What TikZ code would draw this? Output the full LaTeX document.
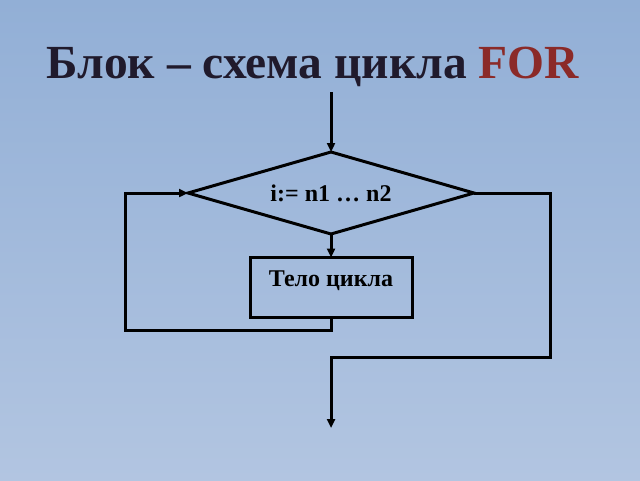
\documentclass[tikz,border=0pt]{standalone}
\usepackage{fontspec}
\setmainfont{Liberation Serif}
\usetikzlibrary{shapes.geometric,arrows.meta}
\definecolor{bgtop}{RGB}{146,175,214}
\definecolor{bgbot}{RGB}{178,197,225}
\definecolor{titlecol}{RGB}{32,26,44}
\definecolor{forcol}{RGB}{139,42,40}
\tikzset{
  line/.style={line width=3pt, line join=miter, black},
  arr/.style={line, -{Triangle[length=9pt,width=8pt]}},
  decision/.style={diamond, draw, line width=3pt, minimum width=286pt, minimum height=82pt, inner sep=0pt, outer sep=0pt},
  bodybox/.style={rectangle, draw, line width=3pt, minimum width=162pt, minimum height=60pt, inner sep=0pt, outer sep=0pt},
  lbl/.style={font=\fontsize{24}{27}\selectfont\bfseries, text=black, inner sep=0pt},
}
\begin{document}
\begin{tikzpicture}[x=1pt,y=-1pt]
  \shade[top color=bgtop, bottom color=bgbot] (0,0) rectangle (640,480);
  \useasboundingbox (0,0) rectangle (640,480);
  \node[font=\fontsize{47.5}{52}\selectfont\bfseries, text=titlecol, anchor=base, inner sep=0pt] (title) at (313,78) {Блок – схема цикла \textcolor{forcol}{FOR}};
  \node[decision] (d) at (331,193) {};
  \node[lbl] (dt) at (331,193) {i:= n1 … n2};
  \node[bodybox] (b) at (331,287.5) {};
  \node[lbl] (bt) at (331,281) {Тело цикла};
  \coordinate (start) at (331,92);
  \coordinate (l1) at (125,330);
  \coordinate (r1) at (550,357);
  \coordinate (fin) at (331,428);
  \draw[arr] (start) -- (d.north);
  \draw[arr] (d.south) -- (b.north);
  \draw[arr] (b.south) |- (l1) |- (d.west);
  \draw[arr] (d.east) -| (r1) -| (fin);
\end{tikzpicture}
\end{document}
